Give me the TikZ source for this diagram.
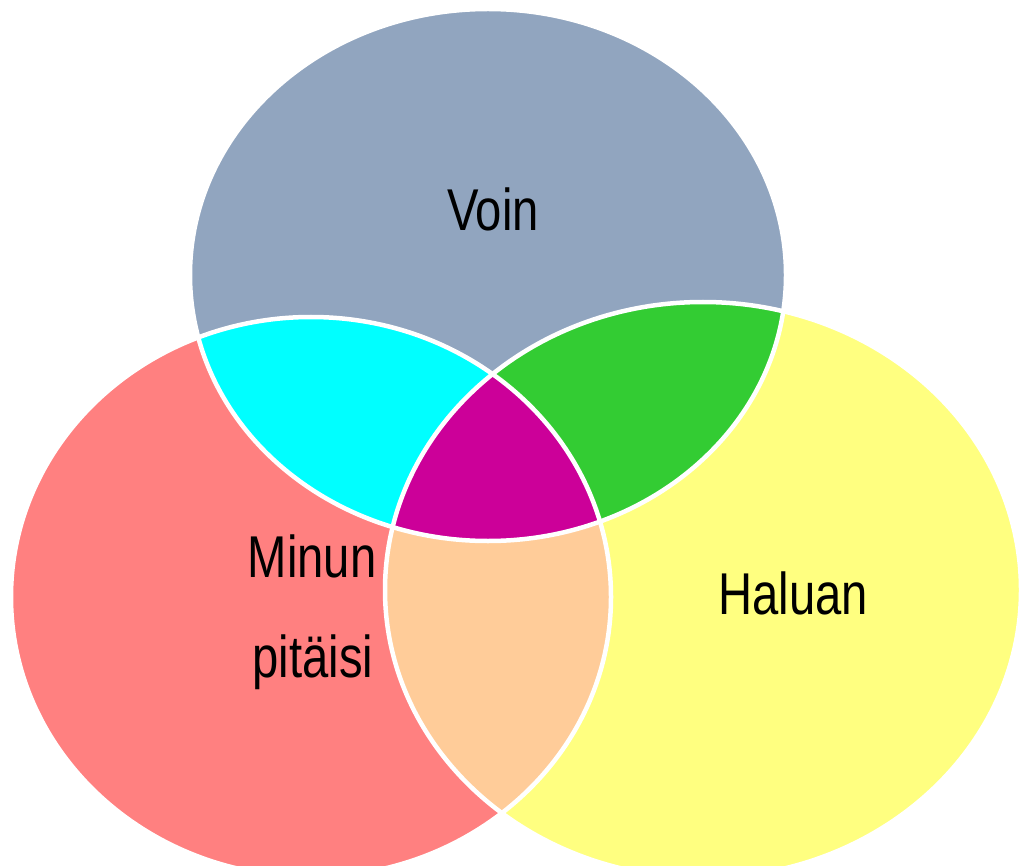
\documentclass[tikz,border=0pt]{standalone}
\usepackage{fontspec}
\newfontfamily\lblfont[FakeStretch=0.8]{Liberation Sans}
\definecolor{cTop}{HTML}{91A5BF}
\definecolor{cLeft}{HTML}{FF8080}
\definecolor{cRight}{HTML}{FFFF80}
\definecolor{cTopLeft}{HTML}{00FFFF}
\definecolor{cTopRight}{HTML}{33CC33}
\definecolor{cLeftRight}{HTML}{FFCC99}
\definecolor{cAll}{HTML}{CC0099}
\def\ellTop{(488,275) ellipse [x radius=298pt, y radius=266pt]}
\def\ellLeft{(311,597) ellipse [x radius=300pt, y radius=280pt]}
\def\ellRight{(703,590) ellipse [x radius=318pt, y radius=288pt]}
\tikzset{
  lbl/.style={font=\lblfont\fontsize{59}{100}\selectfont, text=black, inner sep=0pt},
  rim/.style={draw=white, line width=4.5pt}
}
\begin{document}
\begin{tikzpicture}[x=1pt,y=-1pt]
\useasboundingbox (0,0) rectangle (1019,866);
\clip (0,0) rectangle (1019,866);
% the three sets
\fill[cTop] \ellTop;
\fill[cLeft] \ellLeft;
\fill[cRight] \ellRight;
% pairwise overlaps
\begin{scope}
  \clip \ellTop;
  \fill[cTopLeft] \ellLeft;
  \fill[cTopRight] \ellRight;
\end{scope}
\begin{scope}
  \clip \ellLeft;
  \fill[cLeftRight] \ellRight;
\end{scope}
% common part of all three
\begin{scope}
  \clip \ellTop;
  \clip \ellLeft;
  \fill[cAll] \ellRight;
\end{scope}
% white rims
\draw[rim] \ellTop;
\draw[rim] \ellLeft;
\draw[rim] \ellRight;
% labels
\node[lbl, anchor=base] (voin) at (493,231) {Voin};
\node[lbl, anchor=base] (haluan) at (793,614) {Haluan};
\node[lbl, anchor=base] (minun) at (312,577) {Minun};
\node[lbl, anchor=base] (pitaisi) at (313,677) {pitäisi};
\end{tikzpicture}
\end{document}
